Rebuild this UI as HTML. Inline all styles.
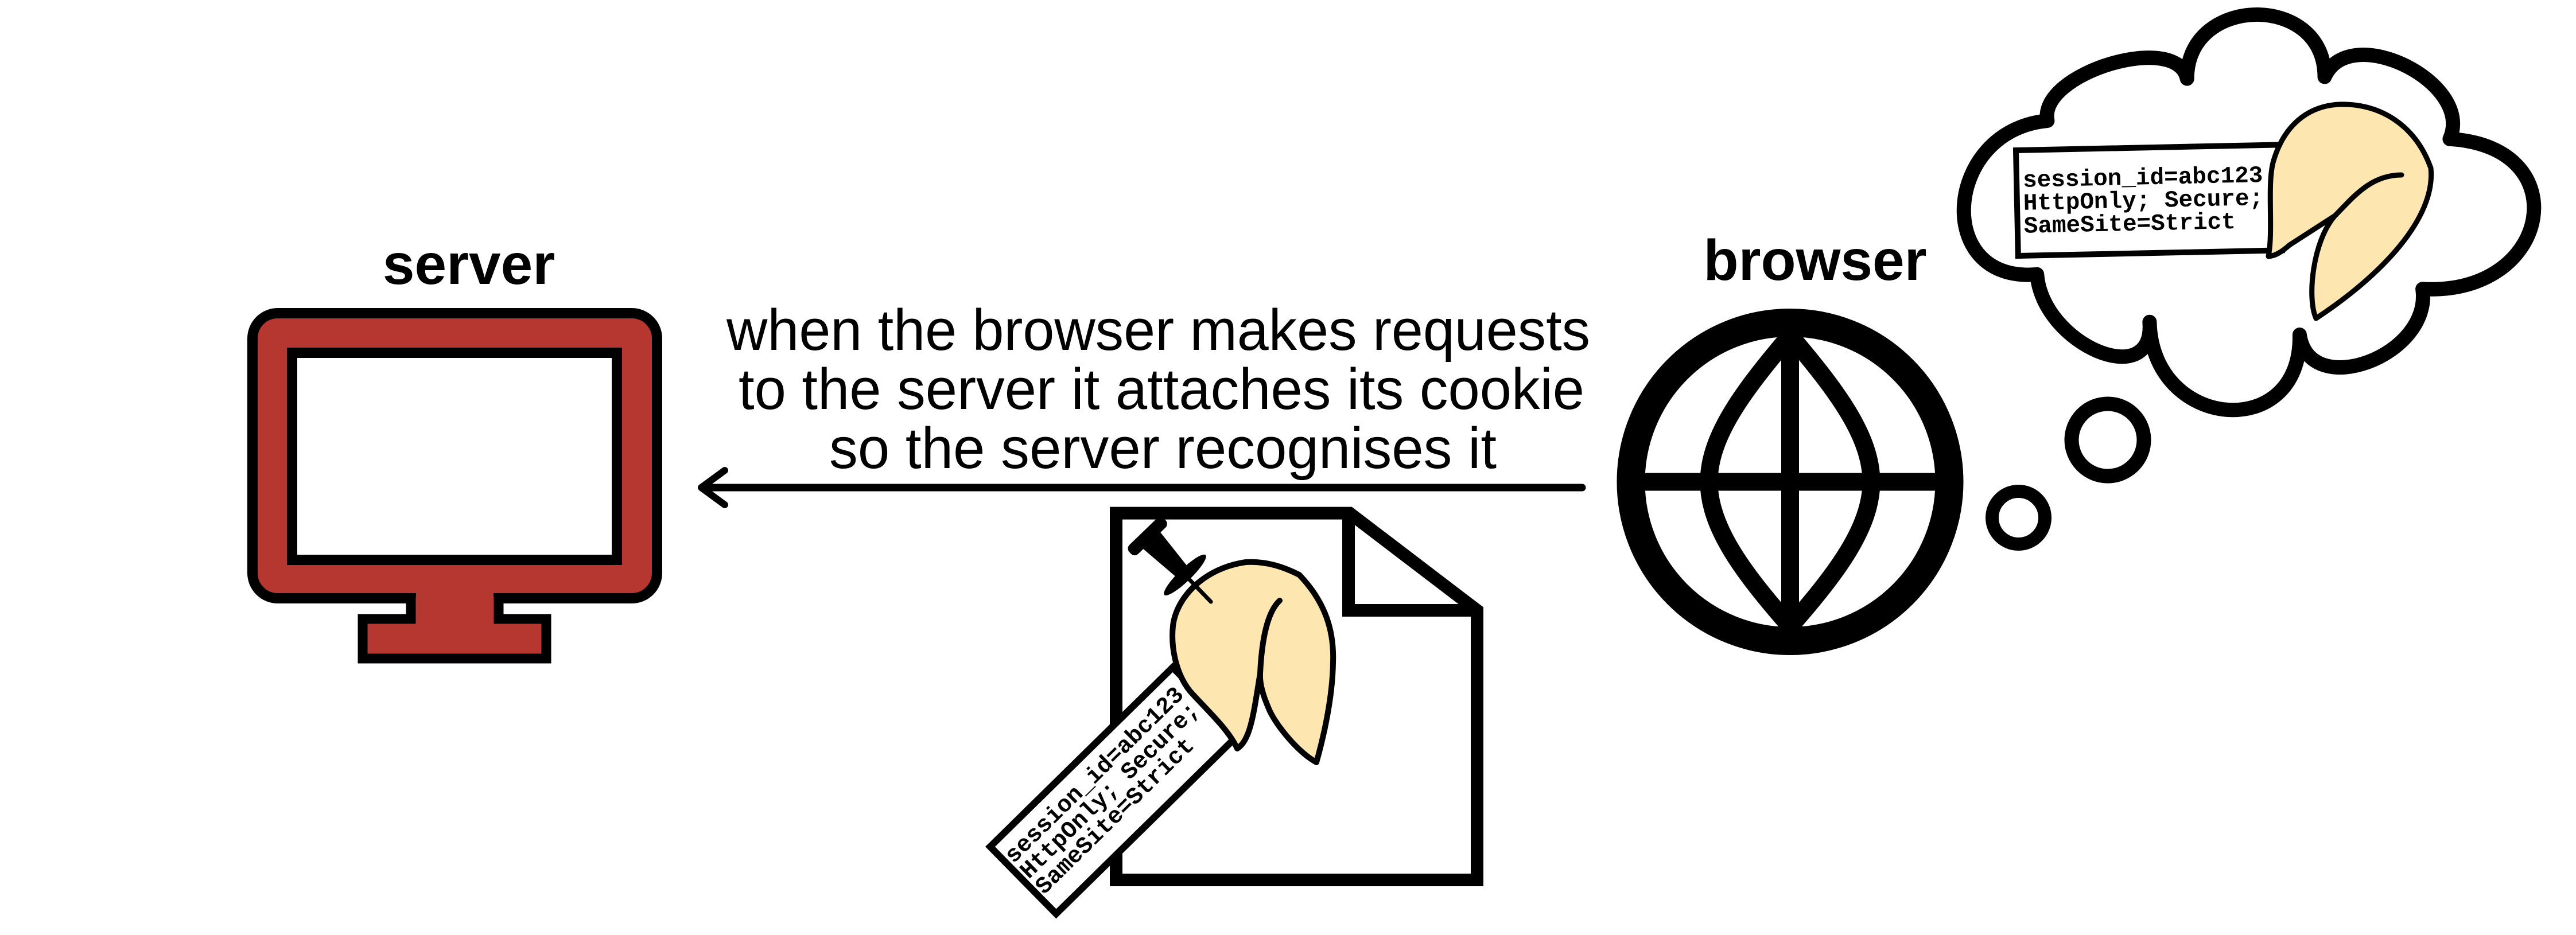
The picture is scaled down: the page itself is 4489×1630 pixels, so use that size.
<!DOCTYPE html>
<html><head><meta charset="utf-8"><style>
html,body{margin:0;padding:0;background:#fff;}
svg{display:block;}
</style></head><body>
<svg xmlns="http://www.w3.org/2000/svg" width="4489" height="1630" viewBox="0 0 4489 1630">
<rect width="4489" height="1630" fill="#fff"/>
<g font-family="Liberation Sans, Arial, sans-serif" fill="#000">
<text x="817" y="495" font-size="100" font-weight="bold" text-anchor="middle">server</text>
<text x="3163" y="488" font-size="100" font-weight="bold" text-anchor="middle">browser</text>
<text x="1266" y="610" font-size="101" textLength="1505" lengthAdjust="spacingAndGlyphs">when the browser makes requests</text>
<text x="1287" y="713" font-size="101" textLength="1474" lengthAdjust="spacingAndGlyphs">to the server it attaches its cookie</text>
<text x="1445" y="816" font-size="101" textLength="1163" lengthAdjust="spacingAndGlyphs">so the server recognises it</text>
<text x="2274" y="1444" font-size="98" text-anchor="middle">request</text>
</g>

<!-- monitor -->
<rect x="440" y="546" width="705" height="497" rx="44" fill="#b5372f" stroke="#000" stroke-width="18"/>
<path d="M716,1040 V1079 H632 V1148 H952 V1079 H869 V1040" fill="#b5372f" stroke="#000" stroke-width="17"/>
<rect x="725" y="1030" width="135" height="48" fill="#b5372f"/>
<rect x="509" y="615" width="566" height="361" fill="#fff" stroke="#000" stroke-width="18"/>

<!-- arrow -->
<line x1="1228" y1="850" x2="2757" y2="850" stroke="#000" stroke-width="13" stroke-linecap="round"/>
<polyline points="1263,820 1222,850 1263,880" fill="none" stroke="#000" stroke-width="12" stroke-linecap="round" stroke-linejoin="round"/>

<!-- globe -->
<circle cx="3119.5" cy="840" r="277.5" fill="#fff" stroke="#000" stroke-width="49"/>
<line x1="2830" y1="840" x2="3410" y2="840" stroke="#000" stroke-width="31"/>
<line x1="3119.5" y1="560" x2="3119.5" y2="1120" stroke="#000" stroke-width="31"/>
<path d="M3119.5,585 C3200,680 3261,760 3261,840 C3261,920 3200,1000 3119.5,1092" fill="none" stroke="#000" stroke-width="31"/>
<path d="M3119.5,585 C3039,680 2978,760 2978,840 C2978,920 3039,1000 3119.5,1092" fill="none" stroke="#000" stroke-width="31"/>

<!-- thought bubbles -->
<circle cx="3673" cy="767" r="63" fill="#fff" stroke="#000" stroke-width="25"/>
<circle cx="3517.5" cy="902.5" r="46" fill="#fff" stroke="#000" stroke-width="23"/>
<path d="M3549.7,478.3 C3368.1,495.1 3386.3,227.3 3567.9,210.5
 C3551,127.6 3794.3,54.2 3811.2,137.1
 C3811.2,-9.7 4051,-12.8 4051,134
 C4094.5,36.2 4312.4,144.5 4268.9,242.3
 C4493.8,255.2 4446.5,516.7 4221.6,503.8
 C4238.3,620.2 4024.1,699.9 4007.4,583.5
 C4011.8,772.7 3750.3,750.4 3745.9,561.2
 C3755.5,684.1 3559.3,601.2 3549.7,478.3 Z" fill="#fff" stroke="#000" stroke-width="25" stroke-linejoin="round"/>

<!-- cloud note -->
<g transform="rotate(-1.2 3513 262)">
<rect x="3513" y="262" width="460" height="184" fill="#fff" stroke="#000" stroke-width="10"/>
<g font-family="Liberation Mono, Courier New, monospace" font-size="41" font-weight="bold" fill="#000">
<text x="3524" y="326">session_id=abc123</text>
<text x="3524" y="366">HttpOnly; Secure;</text>
<text x="3524" y="406">SameSite=Strict</text>
</g>
</g>
<!-- cloud cookie -->
<path d="M3953,447 C3962,400 3950,320 3962,280 C3980,220 4020,185 4076,182 C4150,180 4210,220 4236,293 C4245,380 4150,480 4036,555 C4020,520 4030,420 4069,376 L3990,427 C3975,440 3965,446 3953,447 Z" fill="#fde6b0" stroke="#000" stroke-width="9" stroke-linejoin="round"/>
<path d="M4185,305 C4130,305 4100,345 4069,376" fill="none" stroke="#000" stroke-width="9" stroke-linecap="round"/>

<!-- request document -->
<path d="M1945,894.6 H2352 L2574,1064 V1534 H1945 Z" fill="#fff" stroke="#000" stroke-width="22" stroke-linejoin="miter"/>
<path d="M2350,894.6 V1064 H2574" fill="none" stroke="#000" stroke-width="22"/>

<!-- tag -->
<g transform="translate(1717,1476) rotate(-44.5)">
<rect x="6" y="6" width="446" height="164" fill="#fff" stroke="#000" stroke-width="12"/>
<g font-family="Liberation Mono, Courier New, monospace" font-size="41" font-weight="bold" fill="#000">
<text x="14" y="56">session_id=abc123</text>
<text x="14" y="94">HttpOnly; Secure;</text>
<text x="14" y="132">SameSite=Strict</text>
</g>
</g>

<!-- doc cookie -->
<path d="M2156,1305 C2140,1270 2100,1235 2073,1204 C2050,1175 2040,1130 2044,1091 C2050,1040 2100,990 2171,980 C2210,978 2240,990 2264,1002 C2310,1050 2325,1100 2323,1155 C2322,1220 2305,1290 2294,1329 C2260,1310 2220,1260 2210,1233 C2200,1210 2195,1190 2196,1174 C2185,1240 2180,1290 2156,1305 Z" fill="#fde6b0" stroke="#000" stroke-width="10" stroke-linejoin="round"/>
<path d="M2230,1047 C2205,1070 2198,1130 2196,1174" fill="none" stroke="#000" stroke-width="10" stroke-linecap="round"/>

<!-- pushpin -->
<g transform="translate(1999,934) rotate(46)">
<rect x="-10" y="-42" width="22" height="84" rx="9" fill="#000"/>
<polygon points="10,-21 92,-13 92,13 10,21" fill="#000"/>
<ellipse cx="95" cy="0" rx="11" ry="50" fill="#000"/>
<line x1="95" y1="0" x2="160" y2="0" stroke="#000" stroke-width="7" stroke-linecap="round"/>
</g>
</svg>
</body></html>
